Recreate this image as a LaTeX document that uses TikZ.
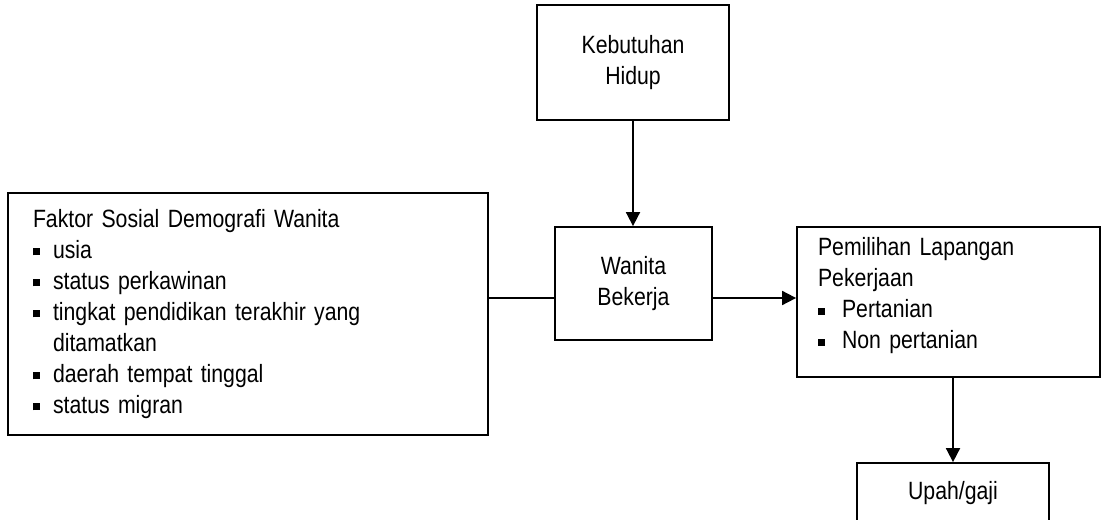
\documentclass[tikz,border=0pt]{standalone}
\usepackage{fontspec}
\setmainfont[FakeStretch=0.85]{Liberation Sans}
\usepackage{tikz}
\usetikzlibrary{arrows.meta,positioning,calc}

\newcommand{\boxfont}{\fontsize{12.5pt}{15.5pt}\selectfont\spaceskip 0.24em\relax}
\newcommand{\sqbullet}{\rule[0.12em]{0.28em}{0.28em}}
\newcommand{\bitem}[2][10pt]{\par\hangindent=#1\hangafter=1\noindent\makebox[#1][l]{\sqbullet}#2}

\begin{document}
\begin{tikzpicture}[x=0.5pt,y=-0.5pt,
  box/.style={draw,line width=0.9pt,inner sep=0pt,font=\boxfont},
  conn/.style={line width=0.9pt},
  >={Triangle[length=7pt,width=7pt]}]
\useasboundingbox (0,0) rectangle (1101,519);

% Boxes
\node[box,minimum width=96pt,minimum height=57.5pt,align=center] (kebutuhan) at (633,62.5) {Kebutuhan\\Hidup};
\node[box,minimum width=78.5pt,minimum height=56.5pt,align=center] (wanita) at (633.5,283.5) {Wanita\\Bekerja};
\node[box,text width=215pt,inner xsep=12.5pt,minimum height=121pt,align=left] (faktor) at (248,314) {%
  \noindent Faktor Sosial Demografi Wanita
  \bitem{usia}
  \bitem{status perkawinan}
  \bitem{tingkat pendidikan terakhir yang\break ditamatkan}
  \bitem{daerah tempat tinggal}
  \bitem{status migran}};
\node[box,text width=130.5pt,inner xsep=10.5pt,minimum height=75pt,align=left] (pemilihan) at (948.5,302) {%
  \noindent Pemilihan Lapangan\\Pekerjaan
  \bitem[12pt]{Pertanian}
  \bitem[12pt]{Non pertanian}\par\vskip 6pt\hrule height 0pt width 0pt};
\node[box,minimum width=96pt,minimum height=30.5pt] (upah) at (953,493.5) {Upah/gaji};

% Connectors
\coordinate (link) at (0,298);
\draw[conn,->] (kebutuhan.south) -- (kebutuhan.south |- wanita.north);
\draw[conn] (faktor.east |- link) -- (wanita.west |- link);
\draw[conn,->] (wanita.east |- link) -- (pemilihan.west |- link);
\draw[conn,->] (upah.north |- pemilihan.south) -- (upah.north);
\end{tikzpicture}
\end{document}
